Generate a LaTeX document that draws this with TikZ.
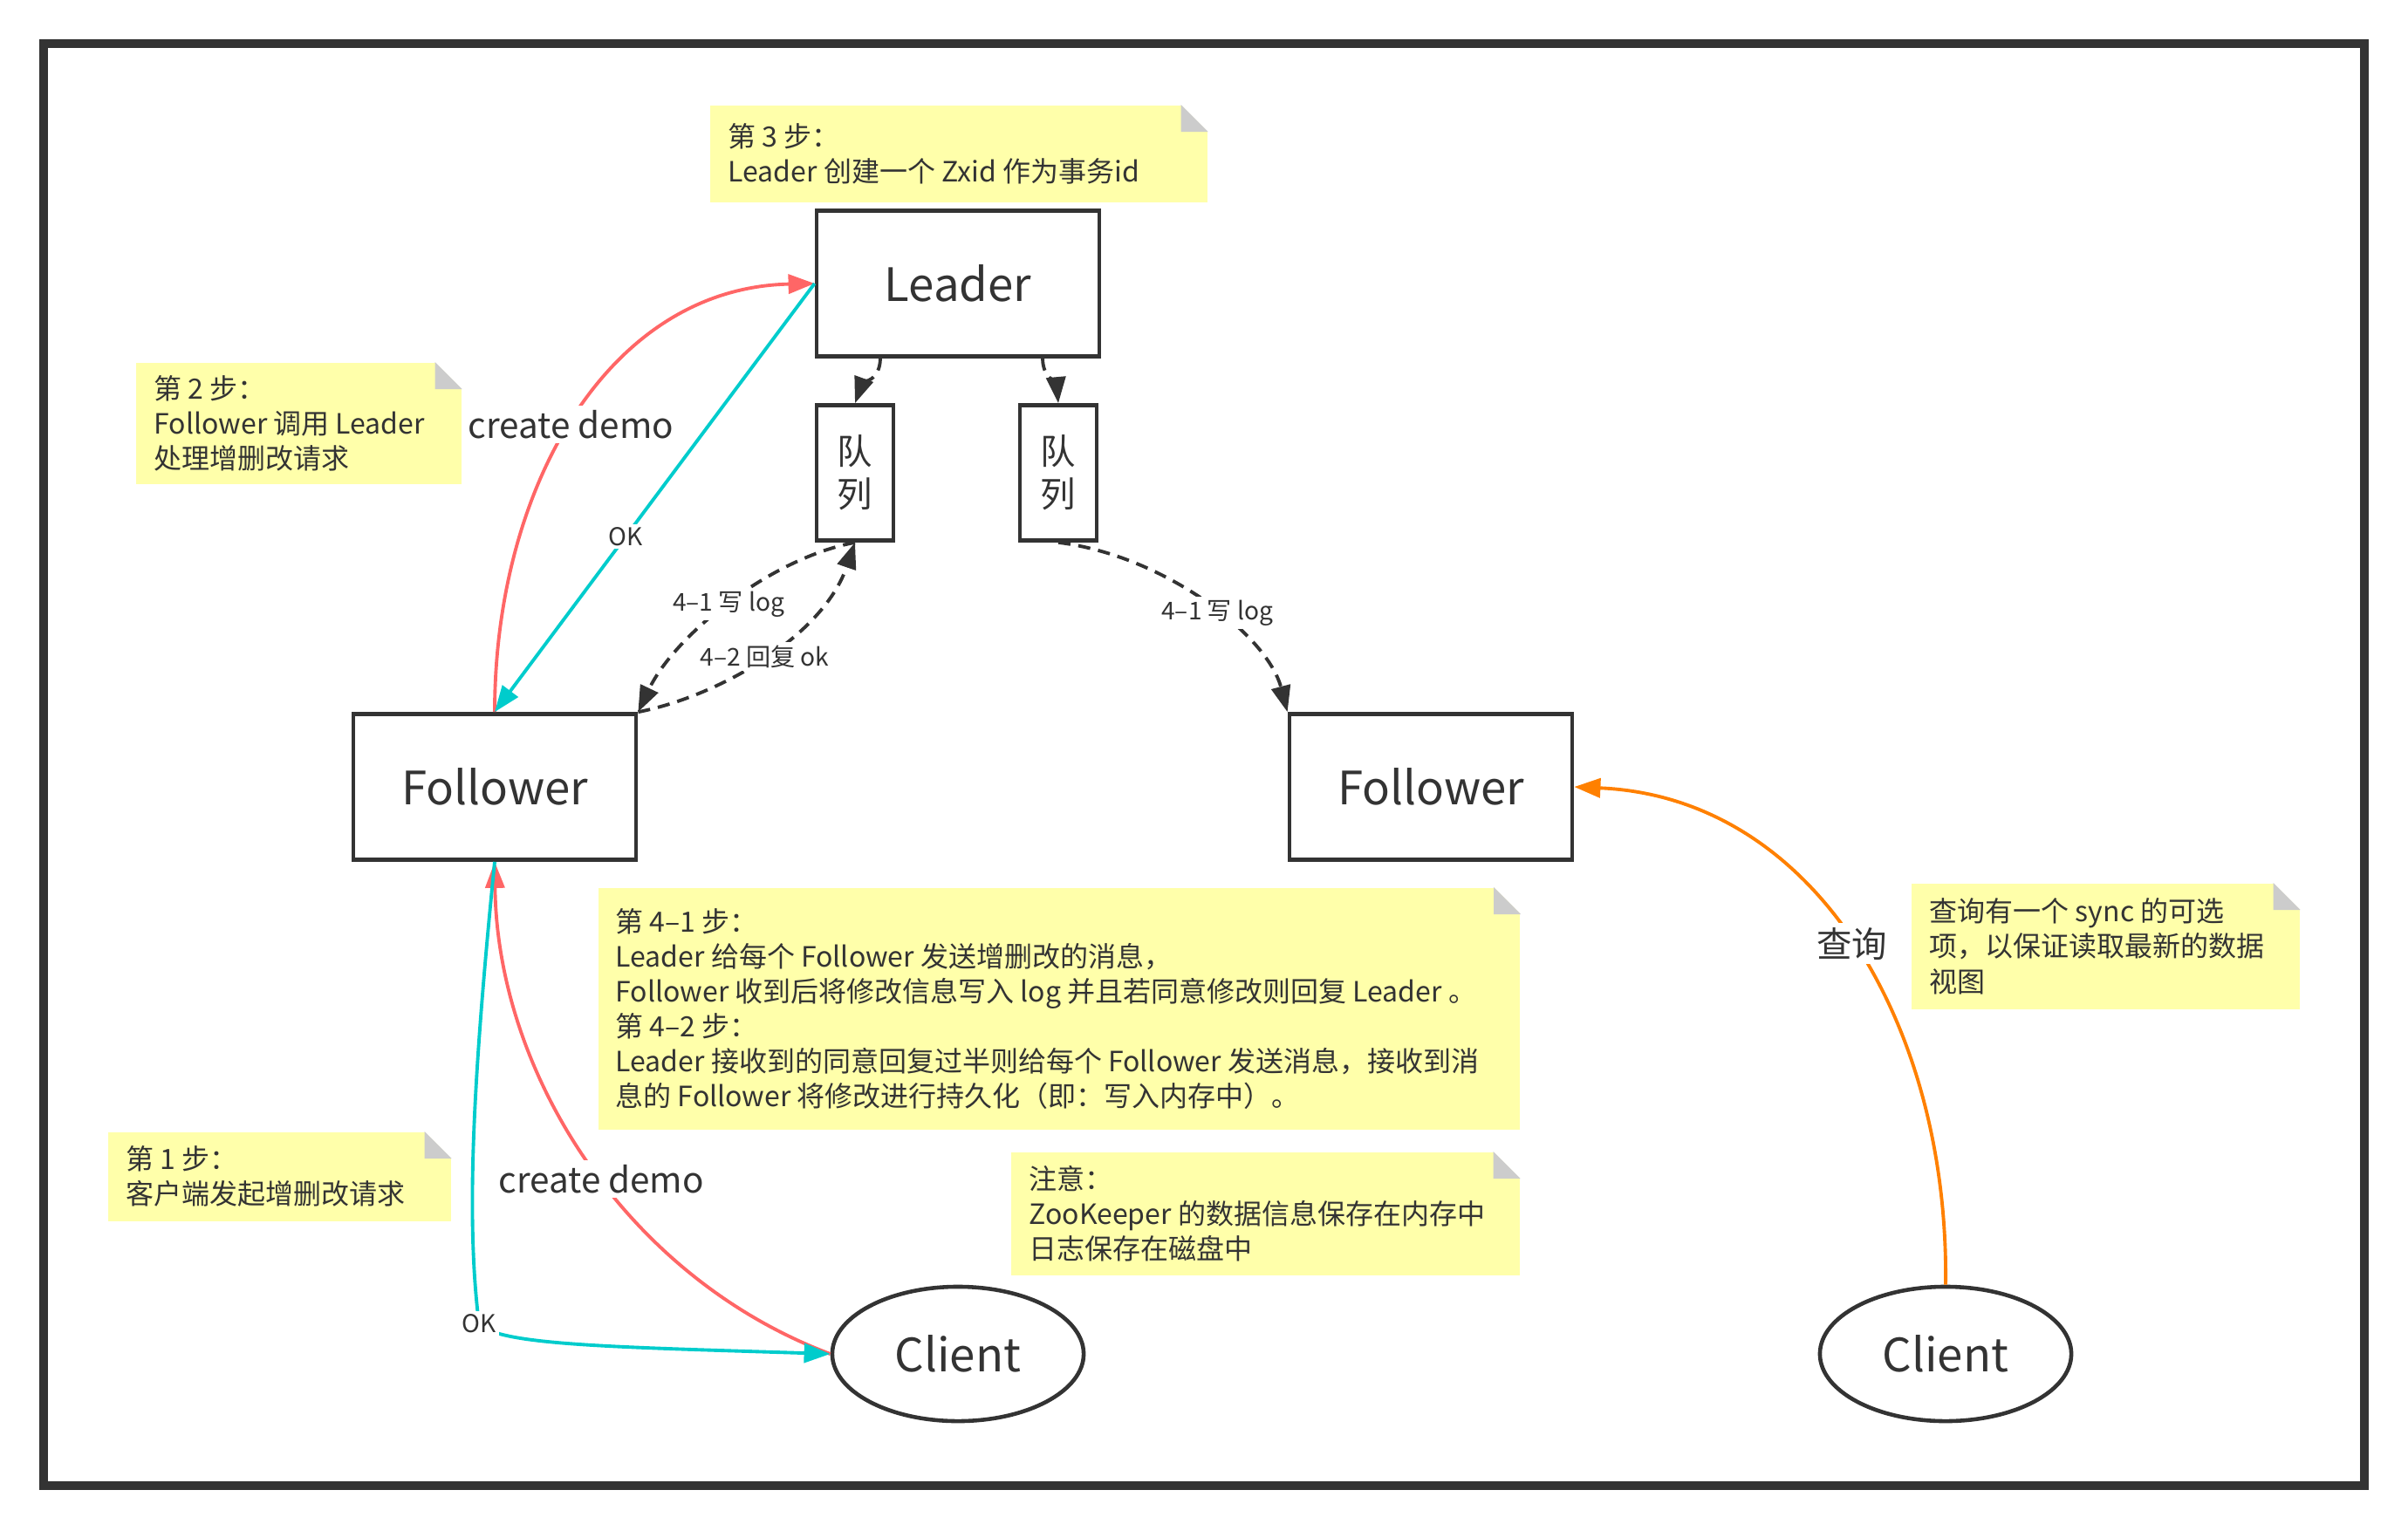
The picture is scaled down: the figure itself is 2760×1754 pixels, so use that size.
\documentclass[tikz,border=0pt]{standalone}
\usepackage{fontspec}
\setmainfont{Noto Sans CJK SC}
\usetikzlibrary{arrows.meta,shapes.geometric}
\definecolor{ink}{HTML}{333333}
\definecolor{notey}{HTML}{FFFFAA}
\definecolor{foldg}{HTML}{CCCCCC}
\definecolor{redl}{HTML}{FF6666}
\definecolor{cyanl}{HTML}{00CCCC}
\definecolor{orangel}{HTML}{FF8000}
\tikzset{
  box/.style={draw=ink, line width=1.3pt, minimum width=3.24cm, minimum height=1.67cm,
    text=ink, font=\fontsize{15}{18}\selectfont},
  queuebox/.style={draw=ink, line width=1.3pt, minimum width=0.88cm, minimum height=1.55cm,
    inner sep=0pt, align=center, text=ink, font=\fontsize{11.5}{14}\selectfont},
  clientnode/.style={ellipse, draw=ink, line width=1.3pt, minimum width=2.88cm,
    minimum height=1.54cm, text=ink, font=\fontsize{15}{18}\selectfont},
  note/.style={fill=notey, anchor=north west, inner sep=0pt},
  notetext/.style={anchor=west, align=left, inner sep=0pt, text=ink,
    font=\fontsize{9.1}{11.4}\selectfont},
  lbl/.style={fill=white, text=ink, inner sep=1.5pt, font=\fontsize{11.5}{13}\selectfont},
  smalllbl/.style={fill=white, text=ink, inner sep=1pt, font=\fontsize{8}{10}\selectfont},
  tip/.style={-{Triangle[length=0.3cm,width=0.22cm]}},
  redarrow/.style={tip, draw=redl, line width=1.1pt},
  cyanarrow/.style={tip, draw=cyanl, line width=1.1pt},
  orangearrow/.style={tip, draw=orangel, line width=1.1pt},
  dasharrow/.style={tip, draw=ink, line width=1.1pt, dash pattern=on 4pt off 2.6pt}
}
% folded corner of a note
\newcommand{\foldcorner}[1]{%
  \fill[white] ([xshift=-0.31cm]#1.north east) -- (#1.north east) -- ([yshift=-0.31cm]#1.north east) -- cycle;
  \fill[foldg] ([xshift=-0.31cm]#1.north east) -- ([xshift=-0.31cm,yshift=-0.31cm]#1.north east)
    -- ([yshift=-0.31cm]#1.north east) -- cycle;}
\begin{document}
\begin{tikzpicture}[x=0.01cm, y=-0.01cm]
  \useasboundingbox (0,0) rectangle (2760,1754);
  \draw[ink, line width=2.85pt] (50,50) rectangle (2710,1703);

  % notes
  \node[note, minimum width=5.70cm, minimum height=1.11cm] (s3) at (813,120) {};
  \foldcorner{s3}
  \node[notetext] (s3t) at ([xshift=0.21cm]s3.west) {第 3 步：\\Leader 创建一个 Zxid 作为事务id};
  \node[note, minimum width=3.73cm, minimum height=1.39cm] (s2) at (155,415) {};
  \foldcorner{s2}
  \node[notetext] (s2t) at ([xshift=0.21cm]s2.west) {第 2 步：\\Follower 调用 Leader\\处理增删改请求};
  \node[note, minimum width=10.56cm, minimum height=2.77cm] (s4) at (685,1017) {};
  \foldcorner{s4}
  \node[notetext] (s4t) at ([xshift=0.2cm]s4.west) {第 4–1 步：\\Leader 给每个 Follower 发送增删改的消息，\\Follower 收到后将修改信息写入 log 并且若同意修改则回复 Leader 。\\第 4–2 步：\\Leader 接收到的同意回复过半则给每个 Follower 发送消息，接收到消\\息的 Follower 将修改进行持久化（即：写入内存中）。};
  \node[note, minimum width=3.93cm, minimum height=1.02cm] (s1) at (123,1297) {};
  \foldcorner{s1}
  \node[notetext] (s1t) at ([xshift=0.21cm]s1.west) {第 1 步：\\客户端发起增删改请求};
  \node[note, minimum width=5.83cm, minimum height=1.41cm] (nt) at (1158,1320) {};
  \foldcorner{nt}
  \node[notetext] (ntt) at ([xshift=0.21cm]nt.west) {注意：\\ZooKeeper 的数据信息保存在内存中\\日志保存在磁盘中};
  \node[note, minimum width=4.45cm, minimum height=1.44cm] (sy) at (2190,1012) {};
  \foldcorner{sy}
  \node[notetext] (syt) at ([xshift=0.21cm]sy.west) {查询有一个 sync 的可选\\项，以保证读取最新的数据\\视图};

  % servers and clients
  \node[box] (leader) at (1098,325) {Leader};
  \node[queuebox] (q1) at (980,542) {队\\列};
  \node[queuebox] (q2) at (1213,542) {队\\列};
  \node[box] (fl) at (567,902) {Follower};
  \node[box] (fr) at (1640,902) {Follower};
  \node[clientnode] (cl) at (1098,1552) {Client};
  \node[clientnode] (cr) at (2230,1552) {Client};
  \coordinate (okbend) at (549,1517);

  % write request
  \draw[redarrow] (cl.west) .. controls +(-234,-88) and +(3,243) .. (fl.south)
    node[lbl, pos=0.46] {create demo};
  \draw[redarrow] (fl.north) .. controls +(0,-258) and +(-236,5) .. (leader.west)
    node[lbl, pos=0.48] {create demo};
  \draw[cyanarrow] (leader.west) -- (fl.north) node[smalllbl, pos=0.59] {OK};
  \draw[cyanarrow] (fl.south) .. controls +(-25,250) and +(-15,-120) .. (okbend)
    .. controls +(20,25) and +(-250,-8) .. (cl.west);
  \node[smalllbl] (okl) at (okbend) {OK};

  % queues
  \draw[dasharrow] ([xshift=-0.89cm]leader.south) .. controls +(0,25) and +(8,-22) .. (q1.north);
  \draw[dasharrow] ([xshift=0.97cm]leader.south) .. controls +(0,22) and +(-2,-22) .. (q2.north);
  \draw[dasharrow] (q1.south) .. controls +(-97,18) and +(42,-88) .. (fl.north east)
    node[smalllbl, pos=0.5] {4–1 写 log};
  \draw[dasharrow] (fl.north east) .. controls +(92,-18) and +(-37,108) .. (q1.south)
    node[smalllbl, pos=0.5] {4–2 回复 ok};
  \draw[dasharrow] (q2.south) .. controls +(122,15) and +(-23,-88) .. (fr.north west)
    node[smalllbl, pos=0.55] {4–1 写 log};

  % read request
  \draw[orangearrow] (cr.north) .. controls +(4,-294) and +(278,12) .. (fr.east)
    node[lbl, pos=0.5] {查询};
\end{tikzpicture}
\end{document}
